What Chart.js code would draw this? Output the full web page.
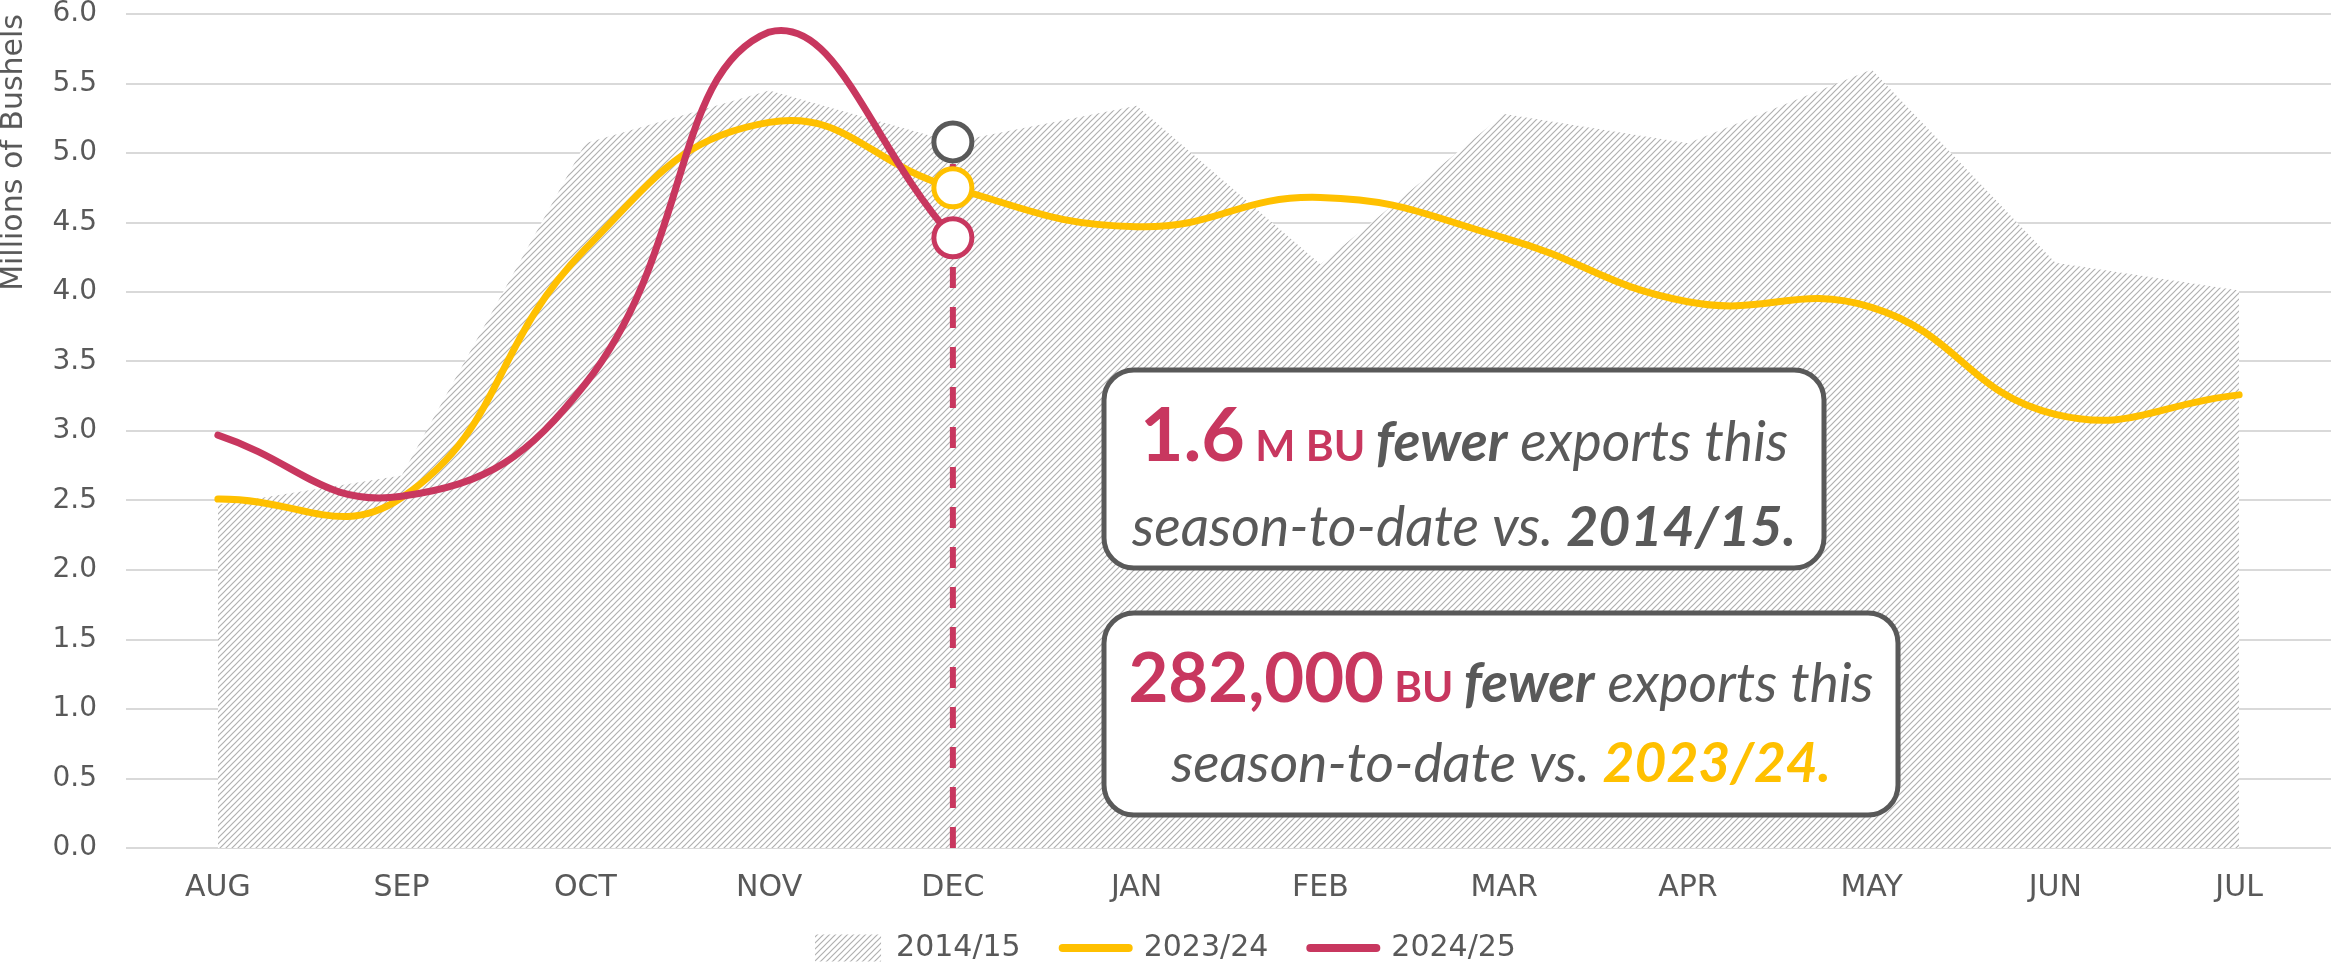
<!DOCTYPE html>
<html><head><meta charset="utf-8">
<script src="https://cdn.jsdelivr.net/npm/chart.js@4.4.1/dist/chart.umd.min.js"></script>
<style>html,body{margin:0;padding:0;background:#fff;overflow:hidden}canvas{display:block}</style>
</head><body>
<canvas id="c" width="2331" height="966" style="width:2331px;height:966px"></canvas>
<script>
// ---------- data ----------
const categories = ['AUG','SEP','OCT','NOV','DEC','JAN','FEB','MAR','APR','MAY','JUN','JUL'];
const exports2014_15 = [2.47, 2.68, 5.07, 5.45, 5.08, 5.34, 4.20, 5.28, 5.07, 5.60, 4.21, 4.01];
const exports2023_24 = [2.51, 2.52, 4.31, 5.22, 4.75, 4.47, 4.68, 4.39, 3.93, 3.89, 3.12, 3.26];
const exports2024_25 = [2.97, 2.53, 3.34, 5.87, 4.39];
const seriesLabels = ['2014/15', '2023/24', '2024/25'];
const yAxisTitle = 'Millions of Bushels';
const yTickMin = 0, yTickMax = 6, yTickStep = 0.5;
const markerMonth = 'DEC';
const note1Text = [['1.6', ' M BU ', 'fewer', ' exports this'], ['season-to-date vs. ', '2014/15.']];
const note2Text = [['282,000', ' BU ', 'fewer', ' exports this'], ['season-to-date vs. ', '2023/24.']];

// ---------- styles ----------
const GRAY = '#595959', YELLOW = '#FFC000', RED = '#C8375F', GRID = '#D9D9D9';
const AXIS_FONT = 'DejaVu Sans';
const NOTE_FONT = 'Lato';

const canvas = document.getElementById('c');
const ctx = canvas.getContext('2d');

function makeHatch() {
  const s = 6;
  const c = document.createElement('canvas'); c.width = s; c.height = s;
  const g = c.getContext('2d');
  g.fillStyle = '#fff'; g.fillRect(0, 0, s, s);
  g.strokeStyle = '#b0b0b0'; g.lineWidth = 1.2;
  g.beginPath();
  g.moveTo(0, s); g.lineTo(s, 0);
  g.moveTo(-1, 1); g.lineTo(1, -1);
  g.moveTo(s - 1, s + 1); g.lineTo(s + 1, s - 1);
  g.stroke();
  return ctx.createPattern(c, 'repeat');
}
const hatch = makeHatch();
const mIdx = categories.indexOf(markerMonth);
const ptRadius = (n, idx) => Array.from({length: n}, (_, i) => i === idx ? 19 : 0);

const markerPlugin = {
  id: 'marker',
  afterLayout(chart) {
    // keep the month labels from being clipped by the axis box
    chart.scales.x.bottom = chart.height;
  },
  afterDatasetDraw(chart, args) {
    if (args.index !== 0) return;
    const {ctx, scales: {x, y}} = chart;
    const px = x.getPixelForValue(mIdx);
    const top = y.getPixelForValue(exports2014_15[mIdx]) + 22;
    const bottom = y.getPixelForValue(0);
    ctx.save();
    ctx.strokeStyle = RED; ctx.lineWidth = 6; ctx.setLineDash([21, 19]);
    ctx.beginPath(); ctx.moveTo(px, bottom); ctx.lineTo(px, top); ctx.stroke();
    ctx.restore();
  }
};

function roundRect(c, x, y, w, h, r) {
  c.beginPath();
  c.moveTo(x + r, y); c.lineTo(x + w - r, y); c.arcTo(x + w, y, x + w, y + r, r);
  c.lineTo(x + w, y + h - r); c.arcTo(x + w, y + h, x + w - r, y + h, r);
  c.lineTo(x + r, y + h); c.arcTo(x, y + h, x, y + h - r, r);
  c.lineTo(x, y + r); c.arcTo(x, y, x + r, y, r); c.closePath();
}

function styleNote(text, bigSize, smallSize, yearColor) {
  return [
    [{t: text[0][0], c: RED, w: 'bold', s: 'normal', z: bigSize},
     {t: text[0][1], c: RED, w: 'bold', s: 'normal', z: smallSize},
     {t: text[0][2], c: GRAY, w: 'bold', s: 'italic', z: 56},
     {t: text[0][3], c: GRAY, w: 'normal', s: 'italic', z: 56}],
    [{t: text[1][0], c: GRAY, w: 'normal', s: 'italic', z: 56},
     {t: text[1][1], c: yearColor, w: 'bold', s: 'italic', z: 56}]
  ];
}

function lineWidthOf(c, segs, k) {
  let w = 0;
  segs.forEach(sg => { c.font = `${sg.s} ${sg.w} ${sg.z * k}px ${NOTE_FONT}`; w += c.measureText(sg.t).width; });
  return w;
}

function drawNote(c, box, lines, baselines, targets) {
  c.save();
  roundRect(c, box.x, box.y, box.w, box.h, 30);
  c.fillStyle = '#fff'; c.fill();
  c.lineWidth = 5; c.strokeStyle = GRAY; c.stroke();
  const k = (targets[0] / lineWidthOf(c, lines[0], 1) + targets[1] / lineWidthOf(c, lines[1], 1)) / 2;
  const cx = box.x + box.w / 2;
  lines.forEach((segs, li) => {
    const tw = lineWidthOf(c, segs, k);
    let x = cx - tw / 2;
    c.textBaseline = 'alphabetic'; c.textAlign = 'left';
    segs.forEach(sg => {
      c.font = `${sg.s} ${sg.w} ${sg.z * k}px ${NOTE_FONT}`;
      c.fillStyle = sg.c;
      c.fillText(sg.t, x, baselines[li]);
      x += c.measureText(sg.t).width;
    });
  });
  c.restore();
}

const notesPlugin = {
  id: 'notes',
  afterDraw(chart) {
    const c = chart.ctx;
    drawNote(c, {x: 1104, y: 370, w: 720, h: 198}, styleNote(note1Text, 76, 43, GRAY), [461, 546], [662, 650]);
    drawNote(c, {x: 1104, y: 613, w: 794, h: 202}, styleNote(note2Text, 70, 43, YELLOW), [702, 782], [752, 654]);
  }
};

new Chart(ctx, {
  type: 'line',
  data: {
    labels: categories,
    datasets: [
      {
        label: seriesLabels[0], data: exports2014_15, order: 3,
        fill: 'origin', backgroundColor: hatch, borderColor: 'rgba(0,0,0,0)', borderWidth: 0, tension: 0,
        pointRadius: ptRadius(exports2014_15.length, mIdx), pointBorderWidth: 5,
        pointBorderColor: GRAY, pointBackgroundColor: '#fff'
      },
      {
        label: seriesLabels[1], data: exports2023_24, order: 2,
        fill: false, borderColor: YELLOW, borderWidth: 7, tension: 0.45, borderCapStyle: 'round',
        pointRadius: ptRadius(exports2023_24.length, mIdx), pointBorderWidth: 5,
        pointBorderColor: YELLOW, pointBackgroundColor: '#fff'
      },
      {
        label: seriesLabels[2], data: exports2024_25, order: 1,
        fill: false, borderColor: RED, borderWidth: 7, tension: 0.45, borderCapStyle: 'round',
        pointRadius: ptRadius(exports2024_25.length, mIdx), pointBorderWidth: 5,
        pointBorderColor: RED, pointBackgroundColor: '#fff'
      }
    ]
  },
  options: {
    responsive: false, animation: false, devicePixelRatio: 1, events: [],
    layout: {autoPadding: false, padding: {top: 14, right: 0, bottom: -7, left: 0}},
    scales: {
      x: {
        offset: true,
        grid: {display: false, drawTicks: false},
        border: {display: false},
        ticks: {font: {family: AXIS_FONT, size: 30}, color: GRAY, padding: 22, maxRotation: 0, autoSkip: false},
        afterFit(s) { s.height = 43; s.paddingLeft = 0; s.paddingRight = 0; }
      },
      y: {
        min: yTickMin, max: yTickMax,
        ticks: {stepSize: yTickStep, callback: v => Number(v).toFixed(1), font: {family: AXIS_FONT, size: 28}, color: GRAY, padding: 29},
        grid: {color: GRID, lineWidth: 2, drawTicks: false},
        border: {display: false},
        title: {display: true, text: yAxisTitle, align: 'end', color: GRAY, padding: {top: -1},
                font: {family: AXIS_FONT, size: 30, lineHeight: 1}},
        afterFit(s) { s.width = 126; s.paddingTop = 0; s.paddingBottom = 0; }
      }
    },
    plugins: {
      tooltip: {enabled: false},
      legend: {
        position: 'bottom',
        labels: {
          usePointStyle: true, pointStyleWidth: 66, boxHeight: 27, padding: 42,
          font: {family: AXIS_FONT, size: 30}, color: GRAY,
          generateLabels(chart) {
            return [
              {text: seriesLabels[0], fillStyle: hatch, strokeStyle: 'rgba(0,0,0,0)', lineWidth: 0, pointStyle: 'rect', datasetIndex: 0, fontColor: GRAY},
              {text: seriesLabels[1], fillStyle: 'rgba(0,0,0,0)', strokeStyle: YELLOW, lineWidth: 8, lineCap: 'round', pointStyle: 'line', datasetIndex: 1, fontColor: GRAY},
              {text: seriesLabels[2], fillStyle: 'rgba(0,0,0,0)', strokeStyle: RED, lineWidth: 8, lineCap: 'round', pointStyle: 'line', datasetIndex: 2, fontColor: GRAY}
            ];
          }
        }
      }
    }
  },
  plugins: [markerPlugin, notesPlugin]
});
</script>
</body></html>
